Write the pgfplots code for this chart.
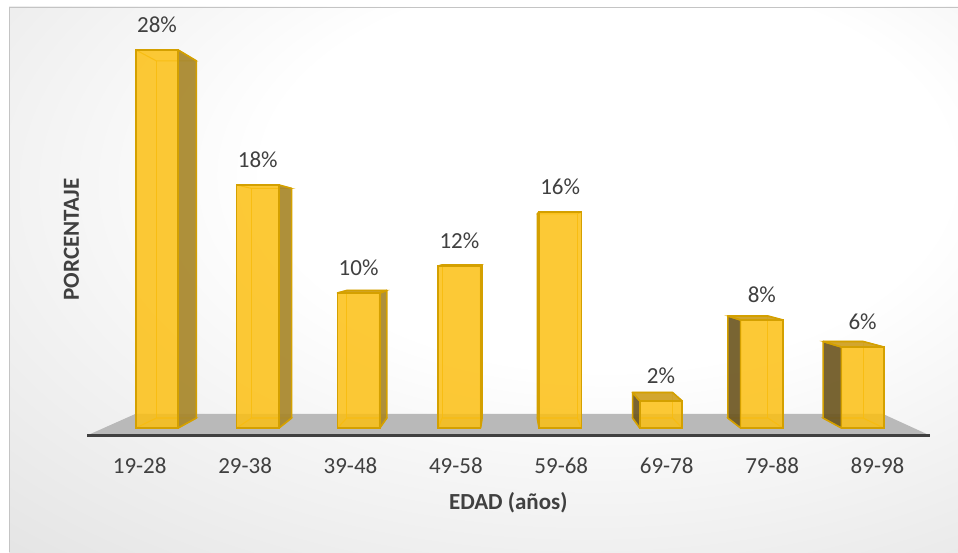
\documentclass[border=0pt]{standalone}
\usepackage{pgfplots}
\pgfplotsset{compat=1.18}
\usepackage{pgfplotstable}
\usepackage{fontspec}
\setmainfont{Carlito}

\definecolor{txt}{HTML}{404040}
\definecolor{goldfill}{HTML}{FCBF10}
\definecolor{goldedge}{HTML}{D4A000}
\definecolor{inneredge}{HTML}{E6AC00}
\definecolor{sideR}{HTML}{A8872A}
\definecolor{sideL}{HTML}{6E5822}
\definecolor{topc}{HTML}{D0A224}
\definecolor{floorc}{HTML}{B9B9B9}
\definecolor{axisc}{HTML}{404040}
\definecolor{framec}{HTML}{C4C4C4}

\pgfdeclareradialshading{chartbg}{\pgfpoint{8bp}{12bp}}{%
  color(0bp)=(white); color(18bp)=(white); color(50bp)=(black!13);
  color(72bp)=(black!18); color(100bp)=(black!21)}

% share of respondents per age group (percent)
\pgfplotstableread{
idx val
0 28
1 18
2 10
3 12
4 16
5 2
6 8
7 6
}\agedata

% bar half width, depth factor and vanishing point (axis units)
\def\hw{0.21}
\def\kd{0.055}
\def\vpx{3.482}
\def\vpy{13.41}

\begin{document}
\begin{tikzpicture}
\useasboundingbox (0,0) rectangle (958pt,552pt);
\fill[white] (0,0) rectangle (958pt,552pt);
\shade[shading=chartbg] (9pt,0pt) rectangle (958pt,545pt);
\draw[framec, line width=1pt] (9.5pt,0pt) -- (9.5pt,544.5pt) -- (958pt,544.5pt);

\begin{axis}[
  at={(0,0)}, anchor=south west,
  width=958pt, height=552pt, scale only axis,
  xmin=-1.5575, xmax=7.9464, ymin=-9.1852, ymax=31.7037,
  hide axis, clip=false,
  /pgf/number format/assume math mode=true,
  inner edge/.style={forget plot, draw=inneredge, line width=1.1pt, draw opacity=0.85},
  face edge/.style={forget plot, draw=goldedge, line width=1.6pt, line join=round},
]

% floor of the 3D plot and the category axis line
\fill[floorc] (axis cs:-0.6944,-0.5556) -- (axis cs:7.6687,-0.5556)
  -- (axis cs:7.2024,1.037) -- (axis cs:-0.2163,1.037) -- cycle;
\draw[axisc, line width=3.5pt] (axis cs:-0.6944,-0.5556) -- (axis cs:7.6687,-0.5556);

% depth of every bar: hidden edges, visible side and top faces
\pgfplotsinvokeforeach{0,...,7}{
  \pgfplotstablegetelem{#1}{val}\of\agedata
  \let\bh\pgfplotsretval
  \pgfmathsetmacro\fxl{#1-\hw}
  \pgfmathsetmacro\fxr{#1+\hw}
  \pgfmathsetmacro\bxl{\fxl+\kd*(\vpx-\fxl)}
  \pgfmathsetmacro\bxr{\fxr+\kd*(\vpx-\fxr)}
  \pgfmathsetmacro\byz{\kd*\vpy}
  \pgfmathsetmacro\byh{\bh+\kd*(\vpy-\bh)}
  \addplot[inner edge] coordinates {(\fxl,0) (\bxl,\byz) (\bxr,\byz) (\fxr,0)};
  \addplot[inner edge] coordinates {(\fxl,\bh) (\bxl,\byh) (\bxr,\byh) (\fxr,\bh)};
  \addplot[inner edge] coordinates {(\bxl,\byz) (\bxl,\byh)};
  \addplot[inner edge] coordinates {(\bxr,\byz) (\bxr,\byh)};
  \pgfmathtruncatemacro\rightvis{\fxr<\vpx}
  \ifnum\rightvis=1
    \addplot[face edge, fill=sideR, fill opacity=0.92] coordinates
      {(\fxr,0) (\bxr,\byz) (\bxr,\byh) (\fxr,\bh)} -- cycle;
  \else
    \addplot[face edge, fill=sideL, fill opacity=0.92] coordinates
      {(\fxl,0) (\bxl,\byz) (\bxl,\byh) (\fxl,\bh)} -- cycle;
  \fi
  \pgfmathtruncatemacro\topvis{\bh<\vpy}
  \ifnum\topvis=1
    \addplot[face edge, fill=topc, fill opacity=0.95] coordinates
      {(\fxl,\bh) (\fxr,\bh) (\bxr,\byh) (\bxl,\byh)} -- cycle;
  \fi
}

% front faces of the bars with their values
\addplot[ybar, bar width=0.42, fill=goldfill, fill opacity=0.84,
  draw=goldedge, line width=1.6pt,
  nodes near coords={\pgfmathprintnumber{\pgfplotspointmeta}\%},
  every node near coord/.append style={font=\fontsize{23}{27}\selectfont,
    text=txt, inner sep=0pt, yshift=17pt, fill opacity=1, text opacity=1}]
  table[x=idx, y=val] {\agedata};

% category names under the floor
\begin{scope}[every node/.style={anchor=base, text=txt, font=\fontsize{23}{27}\selectfont}]
\node at (axis cs:-0.1716,-3.356) {19-28};
\node at (axis cs:0.8740,-3.356) {29-38};
\node at (axis cs:1.9196,-3.356) {39-48};
\node at (axis cs:2.9653,-3.356) {49-58};
\node at (axis cs:4.0109,-3.356) {59-68};
\node at (axis cs:5.0565,-3.356) {69-78};
\node at (axis cs:6.1022,-3.356) {79-88};
\node at (axis cs:7.1478,-3.356) {89-98};
\end{scope}

% axis titles
\node[anchor=base, text=txt, font=\fontsize{23}{27}\selectfont\bfseries]
  at (axis cs:3.485,-6.074) {EDAD (años)};
\node[anchor=base, rotate=90, text=txt, font=\fontsize{23}{27}\selectfont\bfseries]
  at (axis cs:-0.7738,13.963) {PORCENTAJE};
\end{axis}
\end{tikzpicture}
\end{document}
